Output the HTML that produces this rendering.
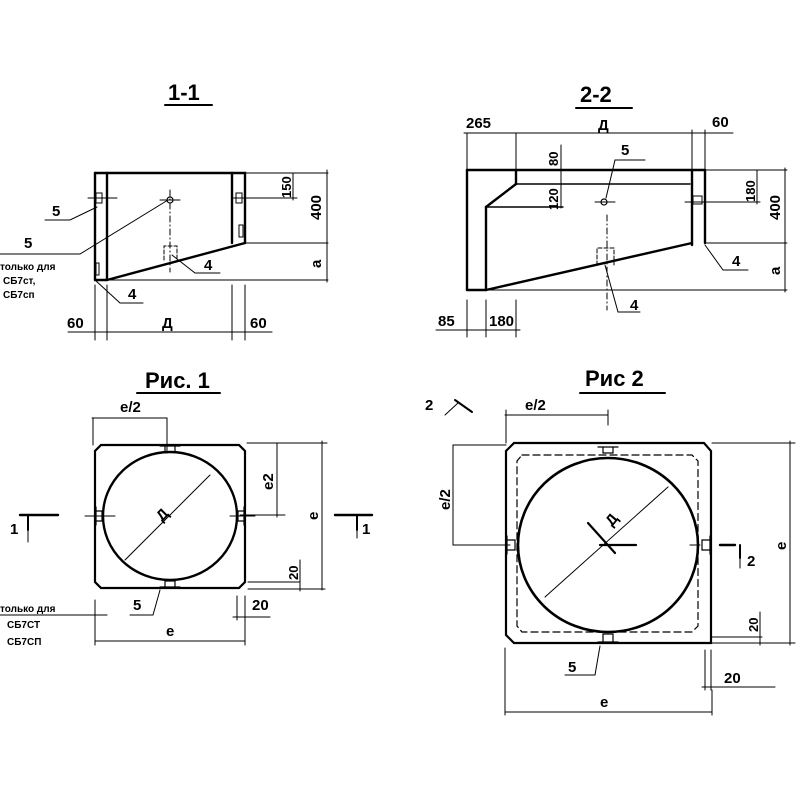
<!DOCTYPE html>
<html><head><meta charset="utf-8"><style>
html,body{margin:0;padding:0;background:#fff}
svg{display:block}
text{font-family:"Liberation Sans","DejaVu Sans",sans-serif;fill:#000;font-weight:bold}
.t{font-size:15px}
.s{font-size:10px;font-weight:bold}
.d{font-size:13px;font-weight:bold}
.h{font-size:22px}
</style></head><body>
<svg width="800" height="800" viewBox="0 0 800 800" xmlns="http://www.w3.org/2000/svg">
<g stroke="#000" fill="none" stroke-linecap="round">
<!-- ===== 1-1 ===== -->
<line x1="165" y1="105" x2="212" y2="105" stroke-width="2"/>
<g stroke-width="2.4">
<polyline points="95,173 245,173 245,243"/>
<line x1="95" y1="173" x2="95" y2="280"/>
<line x1="107" y1="173" x2="107" y2="280"/>
<line x1="232" y1="173" x2="232" y2="243"/>
<line x1="95" y1="280" x2="107" y2="280"/>
<line x1="107" y1="280" x2="245" y2="243"/>
</g>
<g stroke-width="1">
<line x1="107" y1="280" x2="328" y2="280"/>
<line x1="245" y1="243" x2="328" y2="243"/>
<line x1="245" y1="173" x2="328" y2="173"/>
<line x1="327" y1="170" x2="327" y2="282"/>
<line x1="232" y1="198" x2="297" y2="198"/>
<line x1="88" y1="198" x2="117" y2="198"/>
<line x1="293" y1="173" x2="293" y2="200"/>
<line x1="160" y1="200" x2="180" y2="200"/>
<line x1="170" y1="190" x2="170" y2="272" stroke-dasharray="6,3,1,3"/>
<polyline points="164,260 164,246 177,246 177,260" stroke-dasharray="4,2"/>
<polyline points="45,220 70,220 97,207"/>
<polyline points="0,254 80,254 168,200"/>
<polyline points="95,280 120,303 143,303"/>
<polyline points="172,255 195,273 220,273"/>
<line x1="68" y1="332" x2="272" y2="332"/>
<line x1="95" y1="285" x2="95" y2="340"/>
<line x1="107" y1="285" x2="107" y2="340"/>
<line x1="232" y1="285" x2="232" y2="340"/>
<line x1="245" y1="285" x2="245" y2="340"/>
</g>
<circle cx="170" cy="200" r="3" stroke-width="1.2"/>
<rect x="96" y="193" width="6" height="10" stroke-width="1"/>
<rect x="236" y="193" width="6" height="10" stroke-width="1"/>
<rect x="239" y="225" width="4" height="12" stroke-width="1"/>
<rect x="96" y="263" width="3" height="12" stroke-width="1"/>

<!-- ===== 2-2 ===== -->
<line x1="576" y1="108" x2="632" y2="108" stroke-width="2"/>
<g stroke-width="2.4">
<line x1="467" y1="170" x2="705" y2="170"/>
<line x1="467" y1="170" x2="467" y2="290"/>
<line x1="467" y1="290" x2="486" y2="290"/>
<line x1="486" y1="290" x2="692" y2="243"/>
<line x1="692" y1="170" x2="692" y2="245"/>
<line x1="705" y1="170" x2="705" y2="243"/>
<line x1="516" y1="170" x2="516" y2="184"/>
<line x1="516" y1="184" x2="486" y2="207"/>
<line x1="486" y1="207" x2="486" y2="290"/>
</g>
<g stroke-width="1.4">
<line x1="516" y1="184" x2="690" y2="184"/>
<line x1="486" y1="207" x2="563" y2="207"/>
</g>
<g stroke-width="1">
<line x1="464" y1="133" x2="733" y2="133"/>
<line x1="467" y1="133" x2="467" y2="170"/>
<line x1="516" y1="133" x2="516" y2="170"/>
<line x1="692" y1="130" x2="692" y2="170"/>
<line x1="705" y1="130" x2="705" y2="170"/>
<line x1="486" y1="290" x2="787" y2="290"/>
<line x1="705" y1="243" x2="787" y2="243"/>
<line x1="705" y1="170" x2="787" y2="170"/>
<line x1="785" y1="168" x2="785" y2="292"/>
<line x1="757" y1="170" x2="757" y2="204"/>
<line x1="685" y1="202" x2="760" y2="202"/>
<line x1="561" y1="145" x2="561" y2="208"/>
<line x1="595" y1="202" x2="615" y2="202"/>
<line x1="607" y1="215" x2="607" y2="310" stroke-dasharray="6,3,1,3"/>
<polyline points="597,265 597,248 614,248 614,265" stroke-dasharray="4,2"/>
<polyline points="645,160 615,160 606,198"/>
<polyline points="605,265 618,312 640,312"/>
<polyline points="705,245 723,270 748,270"/>
<line x1="436" y1="330" x2="520" y2="330"/>
<line x1="467" y1="300" x2="467" y2="337"/>
<line x1="486" y1="300" x2="486" y2="337"/>
<line x1="516" y1="300" x2="516" y2="337"/>
</g>
<circle cx="604" cy="202" r="3" stroke-width="1.2"/>
<rect x="693" y="196" width="9" height="8" stroke-width="1"/>

<!-- ===== Рис 1 ===== -->
<line x1="137" y1="393" x2="220" y2="393" stroke-width="2"/>
<path d="M101,445 L239,445 L245,451 L245,582 L239,588 L101,588 L95,582 L95,451 Z" stroke-width="2.2"/>
<ellipse cx="170" cy="516" rx="67" ry="64" stroke-width="2.4"/>
<g stroke-width="1.2">
<path d="M160,446 h20 M165,446 v6 h10 v-6"/>
<path d="M160,587 h20 M165,587 v-6 h10 v6"/>
<path d="M96,507 v18 M96,511 h6 v10 h-6"/>
<path d="M244,507 v18 M244,511 h-6 v10 h6"/>
</g>
<g stroke-width="1">
<line x1="92" y1="418" x2="167" y2="418"/>
<line x1="93" y1="418" x2="93" y2="445"/>
<line x1="167" y1="418" x2="167" y2="453"/>
<line x1="125" y1="560" x2="210" y2="475"/>
<line x1="85" y1="516" x2="115" y2="516"/>
<line x1="230" y1="516" x2="255" y2="516"/>
<line x1="247" y1="443" x2="327" y2="443"/>
<line x1="240" y1="515" x2="285" y2="515"/>
<line x1="277" y1="443" x2="277" y2="517"/>
<line x1="322" y1="441" x2="322" y2="590"/>
<line x1="248" y1="582" x2="300" y2="582"/>
<line x1="248" y1="589" x2="325" y2="589"/>
<line x1="300" y1="560" x2="300" y2="591"/>
<polyline points="130,615 153,615 160,590"/>
<line x1="0" y1="615" x2="107" y2="615"/>
<line x1="95" y1="600" x2="95" y2="645"/>
<line x1="237" y1="596" x2="237" y2="620"/>
<line x1="245" y1="596" x2="245" y2="645"/>
<line x1="233" y1="617" x2="270" y2="617"/>
<line x1="95" y1="641" x2="245" y2="641"/>
<line x1="28" y1="518" x2="28" y2="542"/>
<line x1="357" y1="518" x2="357" y2="538"/>
</g>
<line x1="20" y1="515" x2="58" y2="515" stroke-width="2.4"/>
<line x1="28" y1="515" x2="28" y2="530" stroke-width="2"/>
<line x1="335" y1="515" x2="372" y2="515" stroke-width="2.4"/>
<line x1="357" y1="515" x2="357" y2="530" stroke-width="2"/>

<!-- ===== Рис 2 ===== -->
<line x1="580" y1="393" x2="665" y2="393" stroke-width="2"/>
<path d="M514,443 L704,443 L711,451 L711,643 L704,643 L514,643 L506,635 L506,451 Z" stroke-width="2.2"/>
<path d="M522,455 L692,455 L698,461 L698,626 L692,632 L522,632 L517,626 L517,461 Z" stroke-width="1.2" stroke-dasharray="7,4"/>
<ellipse cx="608" cy="545" rx="90" ry="87" stroke-width="2.6"/>
<g stroke-width="1.2">
<path d="M598,447 h20 M603,447 v6 h10 v-6"/>
<path d="M598,642 h20 M603,642 v-8 h10 v8"/>
<path d="M507,536 v18 M507,540 h8 v10 h-8"/>
<path d="M710,536 v18 M710,540 h-8 v10 h8"/>
</g>
<line x1="588" y1="523" x2="615" y2="553" stroke-width="2.2"/>
<line x1="600" y1="545" x2="636" y2="545" stroke-width="2.2"/>
<g stroke-width="1">
<line x1="545" y1="597" x2="668" y2="487"/>
<line x1="505" y1="415" x2="608" y2="415"/>
<line x1="506" y1="410" x2="506" y2="443"/>
<line x1="608" y1="410" x2="608" y2="425"/>
<line x1="453" y1="445" x2="453" y2="545"/>
<line x1="453" y1="445" x2="506" y2="445"/>
<line x1="453" y1="545" x2="510" y2="545"/>
<line x1="690" y1="545" x2="700" y2="545"/>
<line x1="712" y1="443" x2="795" y2="443"/>
<line x1="790" y1="441" x2="790" y2="645"/>
<line x1="712" y1="637" x2="762" y2="637"/>
<line x1="712" y1="643" x2="795" y2="643"/>
<line x1="760" y1="612" x2="760" y2="645"/>
<line x1="705" y1="650" x2="705" y2="690"/>
<line x1="711" y1="650" x2="711" y2="690"/>
<line x1="702" y1="687" x2="775" y2="687"/>
<line x1="505" y1="648" x2="505" y2="715"/>
<line x1="712" y1="690" x2="712" y2="715"/>
<line x1="505" y1="712" x2="712" y2="712"/>
<polyline points="565,675 595,675 600,646"/>
<line x1="445" y1="415" x2="458" y2="403"/>
<line x1="740" y1="550" x2="740" y2="568"/>
</g>
<line x1="455" y1="400" x2="472" y2="412" stroke-width="2"/>
<line x1="720" y1="545" x2="735" y2="545" stroke-width="2.4"/>
<line x1="740" y1="545" x2="740" y2="558" stroke-width="2"/>
</g>

<!-- text -->
<text class="h" x="168" y="100">1-1</text>
<text class="h" x="580" y="102">2-2</text>
<text class="h" x="145" y="388">Рис. 1</text>
<text class="h" x="585" y="386">Рис 2</text>

<text class="t" x="52" y="216">5</text>
<text class="t" x="24" y="248">5</text>
<text class="s" x="0" y="270">только для</text>
<text class="s" x="3" y="284">СБ7ст,</text>
<text class="s" x="3" y="298">СБ7сп</text>
<text class="t" x="128" y="299">4</text>
<text class="t" x="204" y="270">4</text>
<text class="t" x="67" y="328">60</text>
<text class="t" x="162" y="328">Д</text>
<text class="t" x="250" y="328">60</text>
<text class="d" transform="translate(291,198) rotate(-90)">150</text>
<text class="t" transform="translate(321,220) rotate(-90)">400</text>
<text class="t" transform="translate(321,268) rotate(-90)">a</text>

<text class="t" x="466" y="128">265</text>
<text class="t" x="598" y="130">Д</text>
<text class="t" x="712" y="127">60</text>
<text class="t" x="621" y="155">5</text>
<text class="d" transform="translate(558,166) rotate(-90)">80</text>
<text class="d" transform="translate(558,210) rotate(-90)">120</text>
<text class="d" transform="translate(755,202) rotate(-90)">180</text>
<text class="t" transform="translate(780,220) rotate(-90)">400</text>
<text class="t" transform="translate(780,275) rotate(-90)">a</text>
<text class="t" x="630" y="310">4</text>
<text class="t" x="732" y="266">4</text>
<text class="t" x="438" y="326">85</text>
<text class="t" x="489" y="326">180</text>

<text class="t" x="120" y="412">e/2</text>
<text class="t" transform="translate(162,522) rotate(-45)">Д</text>
<text class="t" transform="translate(273,490) rotate(-90)">e2</text>
<text class="t" transform="translate(318,520) rotate(-90)">e</text>
<text class="d" transform="translate(298,580) rotate(-90)">20</text>
<text class="t" x="10" y="534">1</text>
<text class="t" x="362" y="534">1</text>
<text class="t" x="133" y="610">5</text>
<text class="s" x="0" y="612">только для</text>
<text class="s" x="7" y="628">СБ7СТ</text>
<text class="s" x="7" y="645">СБ7СП</text>
<text class="t" x="166" y="636">e</text>
<text class="t" x="252" y="610">20</text>

<text class="t" x="425" y="410">2</text>
<text class="t" x="525" y="410">e/2</text>
<text class="t" transform="translate(450,510) rotate(-90)">e/2</text>
<text class="t" transform="translate(612,527) rotate(-50)">Д</text>
<text class="t" x="747" y="566">2</text>
<text class="t" transform="translate(786,550) rotate(-90)">e</text>
<text class="d" transform="translate(758,632) rotate(-90)">20</text>
<text class="t" x="724" y="683">20</text>
<text class="t" x="568" y="672">5</text>
<text class="t" x="600" y="707">e</text>
</svg>
</body></html>
